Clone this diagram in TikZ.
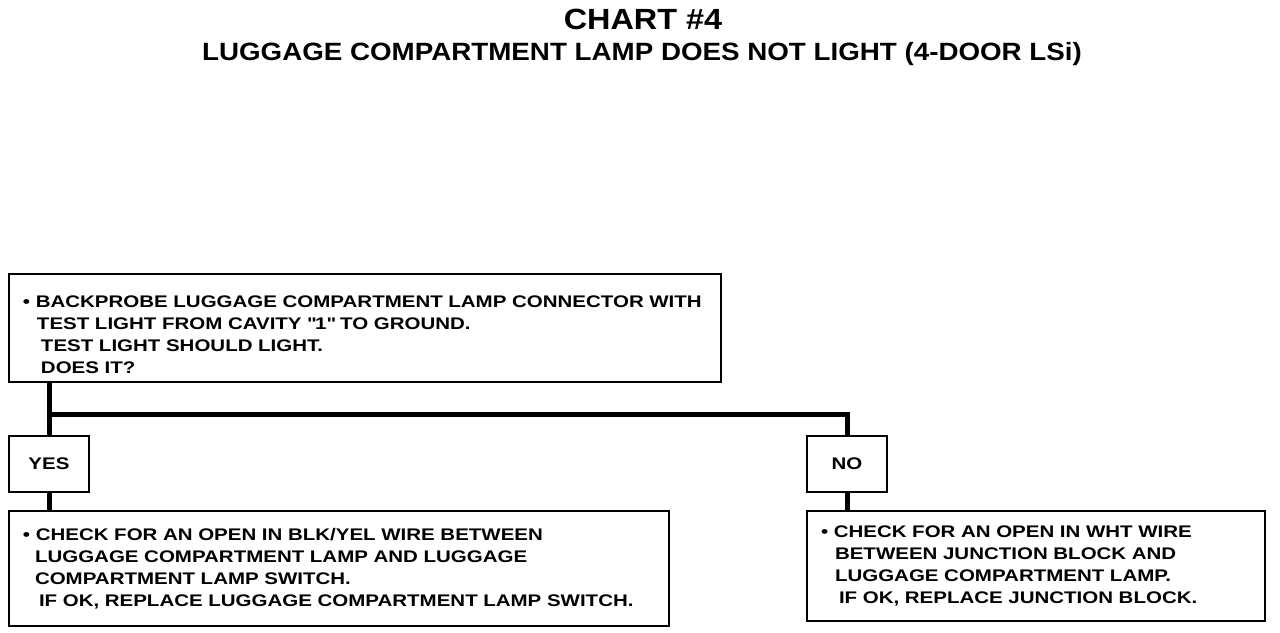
\documentclass[tikz,border=0pt]{standalone}
\usepackage{fontspec}
\setmainfont{Liberation Sans}
\newfontfamily\chartfont[FakeStretch = 1.22]{Liberation Sans}
\newfontfamily\headfont[FakeStretch = 1.11]{Liberation Sans}
\usetikzlibrary{positioning}
\tikzset{
  chartbox/.style = {draw, line width = 1pt, anchor = north west, inner xsep = 7pt, inner ysep = 0pt, align = left, font = \chartfont\bfseries\fontsize{8.4}{11}\selectfont},
  answer/.style = {draw, line width = 1pt, anchor = north west, inner sep = 0pt, minimum width = 40pt, minimum height = 28pt, font = \chartfont\bfseries\fontsize{8.4}{11}\selectfont},
  wire/.style = {line width = 2.5pt}
}
\begin{document}
\begin{tikzpicture}[x = 0.5pt, y = -0.5pt]
\useasboundingbox (0,0) rectangle (1280,632);
\node[anchor = base, font = \headfont\bfseries\fontsize{14.6}{16}\selectfont] (title) at (643,29) {CHART \#4};
\node[anchor = base, font = \headfont\bfseries\fontsize{12.5}{14}\selectfont] (subtitle) at (642,60) {LUGGAGE COMPARTMENT LAMP DOES NOT LIGHT (4-DOOR LSi)};
\node[chartbox, text width = 342pt, minimum height = 54pt] (probe) at (8,273) {\rule{0pt}{12.5pt}\textbullet\ BACKPROBE LUGGAGE COMPARTMENT LAMP CONNECTOR WITH\\ \hspace*{7pt}TEST LIGHT FROM CAVITY \textquotedbl1\textquotedbl\ TO GROUND.\\ \hspace*{9pt}TEST LIGHT SHOULD LIGHT.\\ \hspace*{9pt}DOES IT?};
\node[answer] (yes) at (8,435) {YES};
\node[answer] (no) at (806,435) {NO};
\node[chartbox, text width = 316pt, minimum height = 57.5pt] (chkleft) at (8,510) {\textbullet\ CHECK FOR AN OPEN IN BLK/YEL WIRE BETWEEN\\ \hspace*{6pt}LUGGAGE COMPARTMENT LAMP AND LUGGAGE\\ \hspace*{6pt}COMPARTMENT LAMP SWITCH.\\ \hspace*{8pt}IF OK, REPLACE LUGGAGE COMPARTMENT LAMP SWITCH.};
\node[chartbox, text width = 215pt, minimum height = 55pt] (chkright) at (806,510) {\textbullet\ CHECK FOR AN OPEN IN WHT WIRE\\ \hspace*{7pt}BETWEEN JUNCTION BLOCK AND\\ \hspace*{7pt}LUGGAGE COMPARTMENT LAMP.\\ \hspace*{9pt}IF OK, REPLACE JUNCTION BLOCK.};
\coordinate (split) at (48,414);
\draw[wire] (probe.south -| yes.north) -- (yes.north);
\draw[wire] (split) -| (no.north);
\draw[wire] (yes.south) -- (yes.south |- chkleft.north);
\draw[wire] (no.south) -- (no.south |- chkright.north);
\end{tikzpicture}
\end{document}
